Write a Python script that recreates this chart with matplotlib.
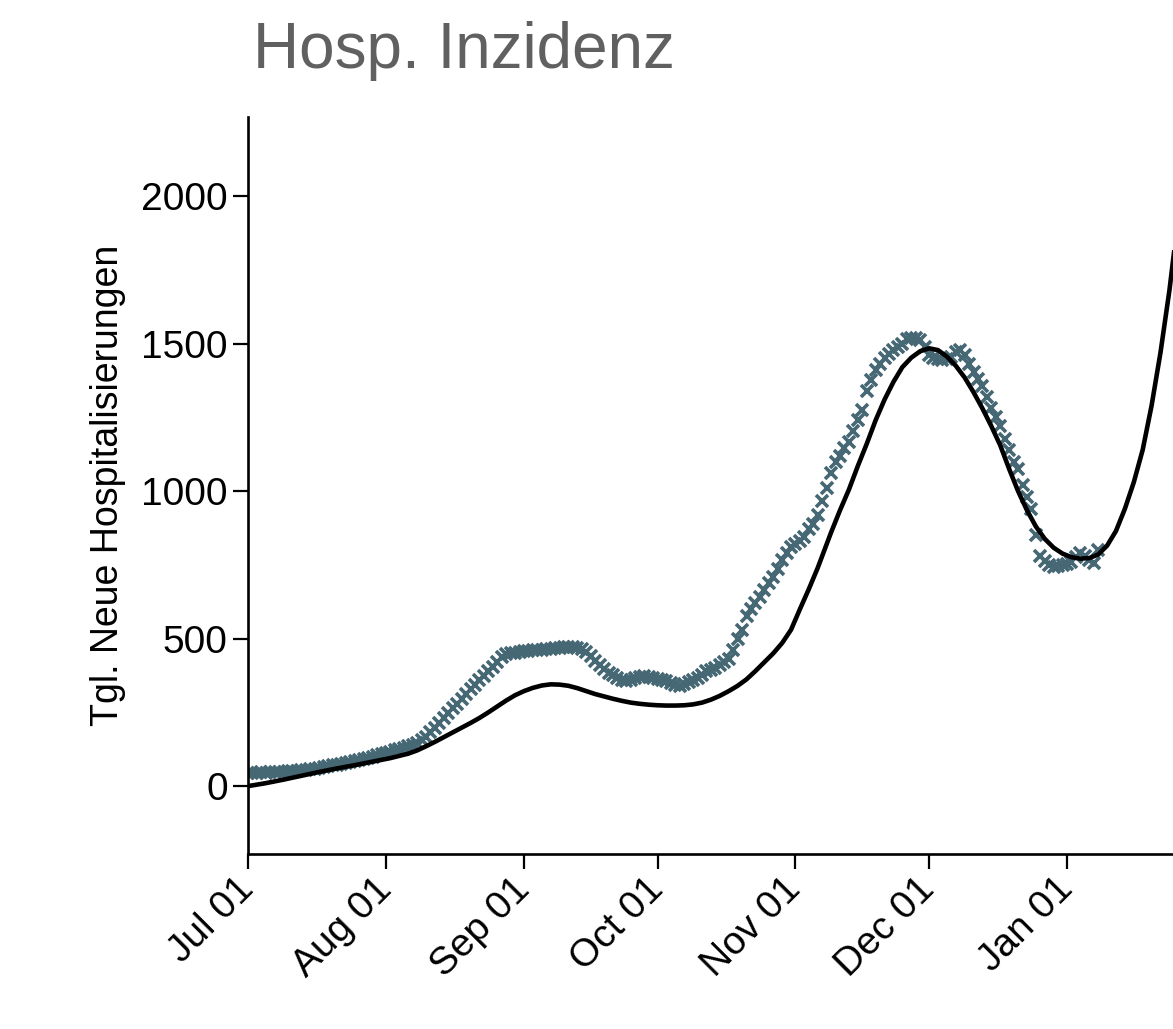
import numpy as np
import matplotlib
matplotlib.use("Agg")
import matplotlib.pyplot as plt
import matplotlib.dates as mdates

plt.rcParams['font.family'] = ['Liberation Sans', 'DejaVu Sans']

start = np.datetime64('2021-07-01')

# daily reported hospitalisations, from Jul 01 onwards
reported = [
    46, 45, 46, 47, 46, 47, 48, 48, 49, 50,
    51, 52, 54, 55, 57, 59, 62, 65, 68, 71,
    73, 76, 79, 82, 86, 89, 92, 96, 100, 104,
    108, 112, 116, 121, 125, 130, 135, 140, 146, 155,
    168, 182, 198, 214, 231, 248, 265, 280, 295, 312,
    328, 343, 358, 374, 390, 405, 420, 436, 447, 452,
    452, 455, 457, 458, 460, 462, 463, 465, 466, 468,
    469, 470, 471, 470, 468, 465, 455, 440, 425, 410,
    398, 385, 375, 365, 358, 355, 358, 365, 370, 372,
    370, 366, 362, 360, 355, 348, 342, 340, 345, 352,
    360, 366, 375, 390, 395, 402, 410, 420, 432, 460,
    500, 530, 575, 600, 620, 640, 665, 690, 708, 735,
    765, 790, 810, 820, 830, 845, 870, 890, 920, 965,
    1010, 1060, 1100, 1120, 1145, 1165, 1205, 1240, 1275, 1340,
    1375, 1410, 1430, 1450, 1465, 1478, 1490, 1500, 1515, 1520,
    1518, 1512, 1490, 1460, 1452, 1448, 1445, 1448, 1455, 1470,
    1478, 1462, 1430, 1405, 1380, 1355, 1320, 1280, 1250, 1220,
    1175, 1140, 1100, 1075, 1020, 980, 940, 850, 780, 762,
    748, 742, 745, 748, 752, 760, 775, 790, 780, 765,
    755, 800,
]

# model curve: day offset from Jul 01 and value
model_day = [0, 4, 8, 12, 16, 20, 24, 28, 32, 36, 38, 40, 42, 44, 46, 48,
             50, 52, 54, 56, 58, 60, 62, 64, 66, 68, 70, 72, 74, 76, 78, 80,
             82, 84, 86, 88, 90, 92, 94, 96, 98, 100, 102, 104, 106, 108, 110,
             112, 114, 116, 118, 120, 122, 124, 126, 128, 131, 133, 135, 137,
             139, 141, 143, 145, 147, 149, 151, 153, 155, 157, 159, 161, 163,
             165, 167, 169, 171, 173, 175, 177, 179, 181, 183, 185, 187, 189,
             191, 193, 195, 197, 199, 201, 203, 205, 207, 209, 211, 213]
model_val = [0, 10, 22, 35, 48, 60, 71, 83, 95, 110, 121, 135, 150, 166, 182,
             198, 214, 231, 250, 270, 290, 308, 322, 333, 341, 345, 344, 340,
             332, 322, 312, 304, 296, 289, 283, 279, 276, 274, 273, 273, 274,
             277, 283, 293, 306, 322, 340, 362, 390, 420, 450, 485, 530, 600,
             668, 740, 860, 935, 1005, 1085, 1160, 1240, 1310, 1370, 1420,
             1452, 1474, 1484, 1478, 1456, 1425, 1385, 1335, 1280, 1220, 1155,
             1075, 1000, 935, 880, 838, 808, 788, 776, 771, 773, 785, 815, 865,
             940, 1030, 1140, 1290, 1470, 1680, 1930, 2220, 2540]

tick_dates = ['2021-07-01', '2021-08-01', '2021-09-01', '2021-10-01',
              '2021-11-01', '2021-12-01', '2022-01-01']

rep_dates = start + np.arange(len(reported))
mod_dates = start + np.array(model_day)

fig = plt.figure(figsize=(11.73, 10.29), dpi=100)
ax = fig.add_axes([0.2114, 0.1701, 0.8159, 0.7162])

ax.plot(rep_dates, reported, 'x', color='#466875', ms=8.5, mew=2.6, zorder=2)
ax.plot(mod_dates, model_val, '-', color='black', lw=3.3, zorder=3,
        solid_joinstyle='round')

ax.set_xlim(start, np.datetime64('2022-02-01'))
ax.set_ylim(-230, 2268)
ax.set_yticks([0, 500, 1000, 1500, 2000])
ax.set_xticks([np.datetime64(d) for d in tick_dates])
ax.xaxis.set_major_formatter(mdates.DateFormatter('%b %d'))
plt.setp(ax.get_xticklabels(), rotation=45, ha='right', va='center',
         rotation_mode='anchor')

for s in ['top', 'right']:
    ax.spines[s].set_visible(False)
for s in ['left', 'bottom']:
    ax.spines[s].set_linewidth(1.9)
ax.tick_params(length=10.5, width=1.6, labelsize=28, pad=4)
ax.tick_params(axis='x', pad=11)
ax.set_ylabel('Tgl. Neue Hospitalisierungen', fontsize=27, labelpad=11)

fig.text(253 / 1173, 1 - 68 / 1029, 'Hosp. Inzidenz', fontsize=46,
         color='#606060', va='baseline', ha='left')

fig.savefig('out.png', dpi=100)
